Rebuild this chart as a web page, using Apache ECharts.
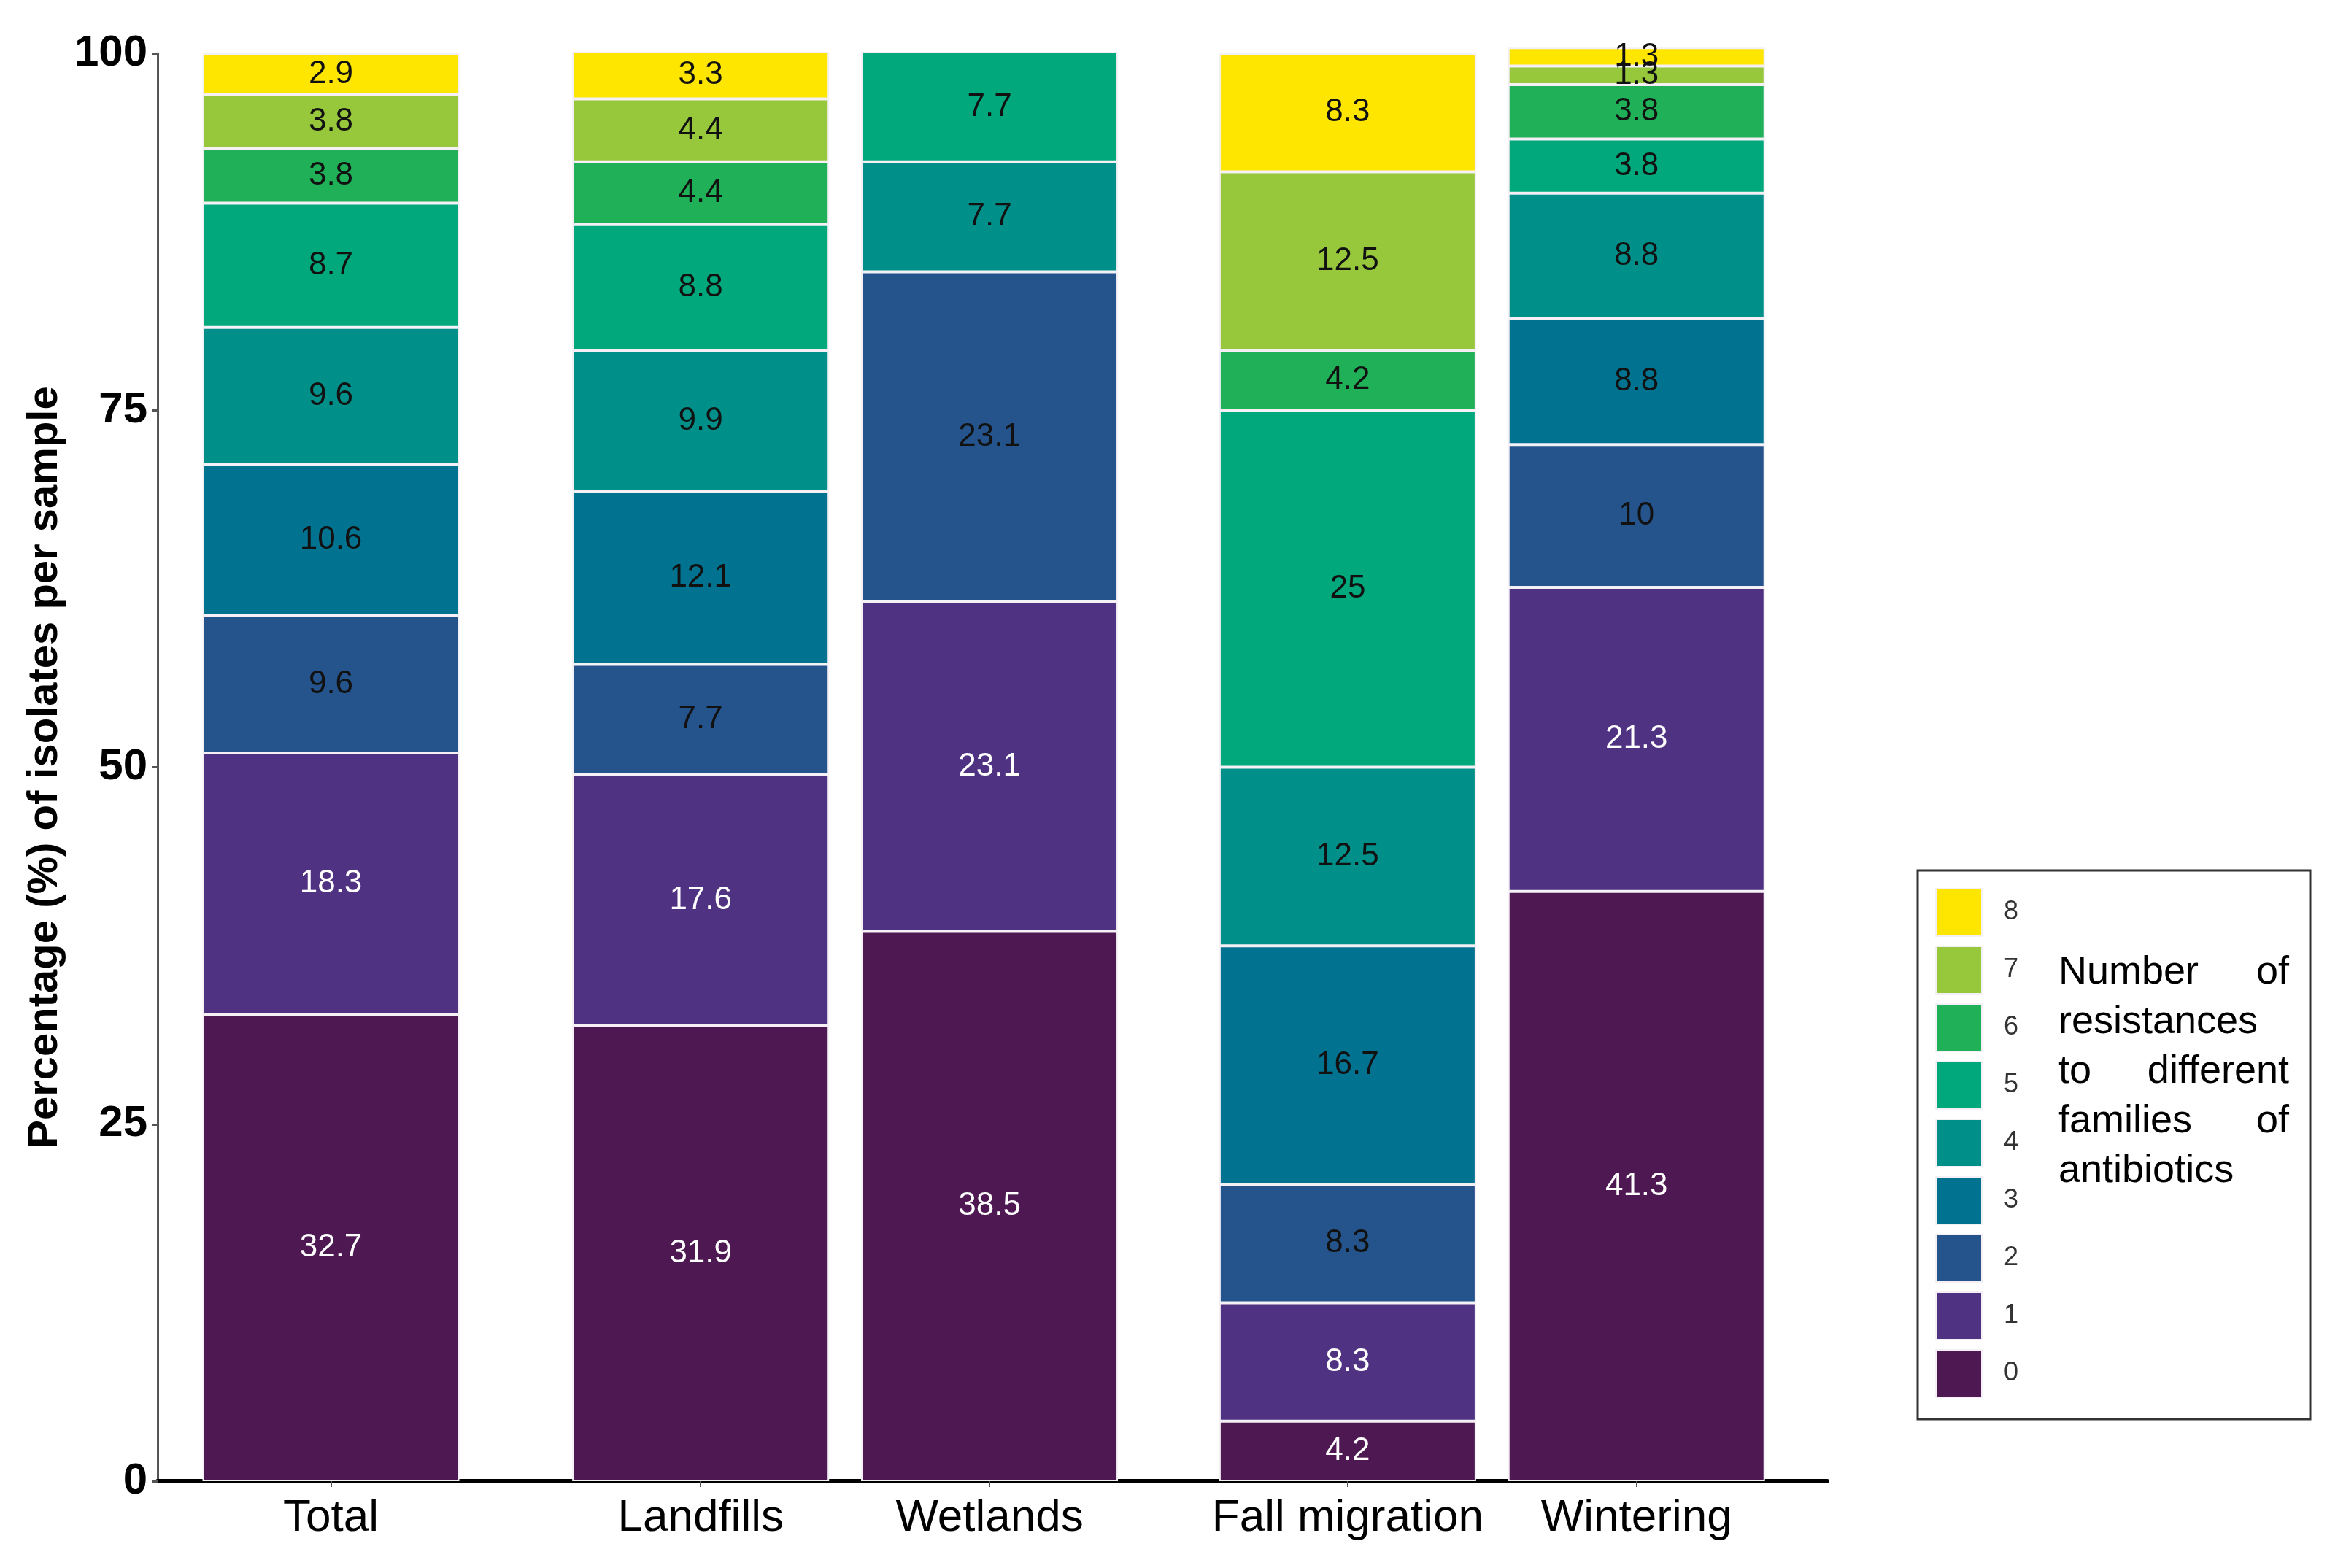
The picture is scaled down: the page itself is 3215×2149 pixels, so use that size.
<!DOCTYPE html>
<html>
<head>
<meta charset="utf-8">
<script src="https://cdn.jsdelivr.net/npm/echarts@6/dist/echarts.min.js"></script>
<style>
html,body{margin:0;padding:0;background:#fff;}
#c{width:3215px;height:2149px;}
</style>
</head>
<body>
<div id="c"></div>
<script>
// Categories and their positions on the x scale
const categories = ['Total', 'Landfills', 'Wetlands', 'Fall migration', 'Wintering'];
const xPositions = [1, 2.28, 3.28, 4.52, 5.52];
const yTicks = [0, 25, 50, 75, 100];
const resistanceLevels = ['0', '1', '2', '3', '4', '5', '6', '7', '8'];

// Percent of isolates per number of resistances, per category (Total, Landfills, Wetlands, Fall migration, Wintering)
const r0 = [32.7, 31.9, 38.5, 4.2, 41.3];
const r1 = [18.3, 17.6, 23.1, 8.3, 21.3];
const r2 = [9.6, 7.7, 23.1, 8.3, 10];
const r3 = [10.6, 12.1, null, 16.7, 8.8];
const r4 = [9.6, 9.9, 7.7, 12.5, 8.8];
const r5 = [8.7, 8.8, 7.7, 25, 3.8];
const r6 = [3.8, 4.4, null, 4.2, 3.8];
const r7 = [3.8, 4.4, null, 12.5, 1.3];
const r8 = [2.9, 3.3, null, 8.3, 1.3];

const seriesValues = [r0, r1, r2, r3, r4, r5, r6, r7, r8];
const colors = ['#4e1952', '#4f3282', '#25548c', '#01728f', '#009089', '#00a87c', '#20b158', '#97c83c', '#ffe600'];
const labelColors = ['#ffffff', '#ffffff', '#111', '#111', '#111', '#111', '#111', '#111', '#111'];

const FONT = 'Liberation Sans, Arial, sans-serif';

const chart = echarts.init(document.getElementById('c'), null, {renderer: 'canvas'});

// value first (dimension 0) so that stacking applies to the y dimension
const series = seriesValues.map((vals, s) => ({
  name: resistanceLevels[s],
  type: 'bar',
  stack: 'all',
  barWidth: 352,
  clip: false,
  encode: {x: 1, y: 0},
  data: xPositions.map((x, i) => [vals[i], x]),
  itemStyle: {color: colors[s], borderColor: '#f4f0f6', borderWidth: 2},
  label: {
    show: true,
    position: 'inside',
    formatter: p => (p.value[0] == null ? '' : String(p.value[0])),
    fontSize: 44,
    fontFamily: FONT,
    color: labelColors[s]
  },
  emphasis: {disabled: true}
}));

const richBase = {fontSize: 54, lineHeight: 68, fontFamily: FONT, fontWeight: 'normal', color: '#000'};
const rs = (w, a) => Object.assign({width: w, align: a}, richBase);

const option = {
  backgroundColor: '#ffffff',
  animation: false,
  grid: {left: 216, right: 711, top: 73, bottom: 119, containLabel: false},
  xAxis: {
    type: 'value',
    min: 0.4,
    max: 6.18,
    splitLine: {show: false},
    axisLine: {show: true, lineStyle: {color: '#000', width: 6}},
    axisTick: {show: true, customValues: xPositions, length: 8, lineStyle: {color: '#555', width: 2}},
    axisLabel: {
      customValues: xPositions,
      formatter: v => categories[xPositions.indexOf(v)] || '',
      fontSize: 62,
      fontFamily: FONT,
      color: '#000',
      margin: 20
    }
  },
  yAxis: {
    type: 'value',
    min: 0,
    max: 100,
    interval: 25,
    name: 'Percentage (%) of isolates per sample',
    nameLocation: 'middle',
    nameGap: 97,
    nameTextStyle: {fontSize: 58, fontWeight: 'bold', fontFamily: FONT, color: '#000'},
    splitLine: {show: false},
    axisLine: {show: true, lineStyle: {color: '#555', width: 3}},
    axisTick: {show: true, length: 8, lineStyle: {color: '#555', width: 3}},
    axisLabel: {fontSize: 60, fontWeight: 'bold', fontFamily: FONT, color: '#000', margin: 14}
  },
  legend: {
    orient: 'vertical',
    left: 2628,
    top: 1193,
    padding: [24, 400, 29, 24],
    itemWidth: 63,
    itemHeight: 65,
    itemGap: 12,
    icon: 'rect',
    borderColor: '#333',
    borderWidth: 3,
    data: resistanceLevels.slice().reverse(),
    textStyle: {fontSize: 36, fontFamily: FONT, color: '#333', padding: [0, 0, 0, 25]},
    selectedMode: false
  },
  title: {
    left: 2816,
    top: 1294,
    text: '{a|Number}{b|of}\n{c|resistances}\n{d|to}{e|different}\n{f|families}{g|of}\n{c|antibiotics}',
    textStyle: {
      fontWeight: 'normal',
      rich: {
        a: rs(250, 'left'),
        b: rs(66, 'right'),
        c: rs(316, 'left'),
        d: rs(110, 'left'),
        e: rs(206, 'right'),
        f: rs(250, 'left'),
        g: rs(66, 'right')
      }
    }
  },
  series: series
};

chart.setOption(option);
</script>
</body>
</html>
